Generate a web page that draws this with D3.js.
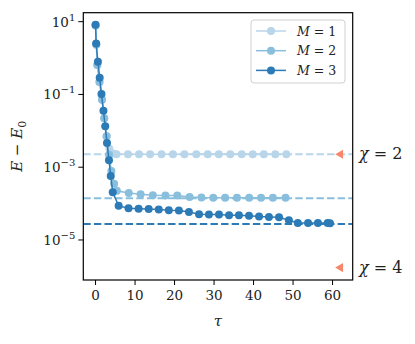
<!DOCTYPE html>
<html>
<head>
<meta charset="utf-8">
<script src="https://cdn.jsdelivr.net/npm/d3@7"></script>
<style>
  body { margin: 0; background: #fff; }
</style>
</head>
<body>
<svg width="415" height="344"></svg>
<script>
// imaginary time tau and energy error for each bond dimension M
const tau1 = [0, 0.2, 0.45, 1.0, 1.65, 2.2, 2.8, 3.5, 4.4, 5.3, 8.2, 11.0, 13.8, 16.7, 19.6, 22.5, 25.5, 28.4, 31.2, 34.1, 37.0, 39.8, 42.6, 45.5, 48.3];
const err1 = [8.0, 2.3, 0.65, 0.22, 0.071, 0.022, 0.0071, 0.0032, 0.0024, 0.00228, 0.00228, 0.00228, 0.00228, 0.00228, 0.00228, 0.00228, 0.00228, 0.00228, 0.00228, 0.00228, 0.00228, 0.00228, 0.00228, 0.00228, 0.00228];

const tau2 = [0, 0.2, 0.45, 1.0, 1.65, 2.2, 2.8, 3.4, 4.0, 4.7, 5.4, 8.4, 11.4, 14.5, 17.7, 20.7, 23.8, 26.8, 29.8, 32.8, 35.8, 38.9, 41.9, 44.9, 48.1];
const err2 = [7.9, 2.4, 0.65, 0.22, 0.071, 0.022, 0.0071, 0.0022, 7.9e-4, 3.5e-4, 2.25e-4, 1.95e-4, 1.82e-4, 1.7e-4, 1.66e-4, 1.66e-4, 1.51e-4, 1.46e-4, 1.45e-4, 1.45e-4, 1.45e-4, 1.45e-4, 1.45e-4, 1.45e-4, 1.45e-4];

const tau3 = [0, 0.15, 0.6, 1.05, 1.5, 2.0, 2.45, 2.9, 3.4, 3.85, 4.35, 5.85, 8.35, 10.9, 13.45, 16.0, 18.55, 21.1, 23.65, 26.2, 28.7, 31.25, 33.8, 36.3, 38.85, 41.4, 43.9, 46.45, 48.95, 51.2, 53.8, 56.3, 58.75, 59.35];
const err3 = [8.3, 2.5, 0.79, 0.29, 0.103, 0.0357, 0.0133, 0.00466, 0.00156, 5.7e-4, 2.06e-4, 8.7e-5, 7.4e-5, 7.2e-5, 7.1e-5, 6.9e-5, 6.6e-5, 6.5e-5, 5.9e-5, 5.1e-5, 5.0e-5, 5.0e-5, 4.8e-5, 4.8e-5, 4.6e-5, 4.4e-5, 4.3e-5, 4.2e-5, 3.5e-5, 2.95e-5, 2.95e-5, 2.95e-5, 2.95e-5, 2.9e-5];

// converged (dashed) levels per M
const converged = [0.00228, 1.41e-4, 2.77e-5];
const seriesLabels = ["1", "2", "3"];
const colors = ["#b8d5ea", "#89bedc", "#2c7bb6"];

// reference markers
const chiTau = [62, 62];
const chiErr = [0.00228, 1.74e-6];
const chiLabels = ["2", "4"];

const xTicks = [0, 10, 20, 30, 40, 50, 60];
const yTicks = [1e1, 1e-1, 1e-3, 1e-5];

const serif = "'DejaVu Serif', serif";
const svg = d3.select("svg")
  .attr("font-family", serif)
  .style("font-family", serif);
const pLeft = 83.3, pRight = 352.7, pTop = 12.7, pBottom = 280;

const x = d3.scaleLinear().domain([-3.1, 65.1]).range([pLeft, pRight]);
const y = d3.scaleLog().domain([Math.pow(10, -6.1), Math.pow(10, 1.247)]).range([pBottom, pTop]);

const series = [
  { tau: tau1, err: err1 },
  { tau: tau2, err: err2 },
  { tau: tau3, err: err3 }
].map((s, i) => ({ ...s, label: seriesLabels[i], color: colors[i], level: converged[i] }));

const plot = svg.append("g");

plot.append("defs").append("clipPath").attr("id", "clip")
  .append("rect").attr("x", pLeft).attr("y", pTop)
  .attr("width", pRight - pLeft).attr("height", pBottom - pTop);

const inner = plot.append("g").attr("clip-path", "url(#clip)");

// dashed converged lines
inner.selectAll("line.level")
  .data(series)
  .join("line")
  .attr("class", "level")
  .attr("x1", pLeft).attr("x2", pRight)
  .attr("y1", d => y(d.level)).attr("y2", d => y(d.level))
  .attr("stroke", d => d.color)
  .attr("stroke-width", 2)
  .attr("stroke-dasharray", "7.4,3.2");

const line = d3.line().x(d => x(d[0])).y(d => y(d[1]));

series.forEach(s => {
  const pts = s.tau.map((t, i) => [t, s.err[i]]);
  const g = inner.append("g");
  g.append("path")
    .datum(pts)
    .attr("d", line)
    .attr("fill", "none")
    .attr("stroke", s.color)
    .attr("stroke-width", 1.5);
  g.selectAll("circle")
    .data(pts)
    .join("circle")
    .attr("cx", d => x(d[0]))
    .attr("cy", d => y(d[1]))
    .attr("r", 4)
    .attr("fill", s.color);
});

// chi triangles
inner.selectAll("path.chi")
  .data(chiTau.map((t, i) => [t, chiErr[i]]))
  .join("path")
  .attr("class", "chi")
  .attr("d", d3.symbol(d3.symbolTriangle, 36)())
  .attr("transform", d => `translate(${x(d[0])},${y(d[1])}) rotate(-90)`)
  .attr("fill", "#f8866a");

// frame
plot.append("rect")
  .attr("x", pLeft).attr("y", pTop)
  .attr("width", pRight - pLeft).attr("height", pBottom - pTop)
  .attr("fill", "none").attr("stroke", "#000").attr("stroke-width", 1.2);

// x axis
const xAxis = svg.append("g");
xTicks.forEach(t => {
  xAxis.append("line")
    .attr("x1", x(t)).attr("x2", x(t))
    .attr("y1", pBottom).attr("y2", pBottom + 5)
    .attr("stroke", "#000").attr("stroke-width", 1);
  xAxis.append("text")
    .attr("x", x(t)).attr("y", pBottom + 20)
    .attr("text-anchor", "middle")
    .attr("font-size", 13.5)
    .attr("fill", "#222")
    .text(t);
});
svg.append("text")
  .attr("x", (pLeft + pRight) / 2).attr("y", 326)
  .attr("text-anchor", "middle")
  .attr("font-size", 15)
  .attr("font-style", "italic")
  .attr("fill", "#222")
  .text("τ");

// y axis
const yAxis = svg.append("g");
yTicks.forEach(t => {
  const e = Math.round(Math.log10(t));
  yAxis.append("line")
    .attr("x1", pLeft - 5).attr("x2", pLeft)
    .attr("y1", y(t)).attr("y2", y(t))
    .attr("stroke", "#000").attr("stroke-width", 1);
  const txt = yAxis.append("text")
    .attr("x", pLeft - 8).attr("y", y(t) + 5)
    .attr("text-anchor", "end")
    .attr("font-size", 13.5)
    .attr("fill", "#222");
  txt.append("tspan").text("10");
  txt.append("tspan").attr("dy", -6).attr("font-size", 10)
    .text(e < 0 ? "−" + (-e) : e);
});
const yl = svg.append("text")
  .attr("transform", `translate(22,${(pTop + pBottom) / 2}) rotate(-90)`)
  .attr("text-anchor", "middle")
  .attr("font-size", 15)
  .attr("fill", "#222");
yl.append("tspan").attr("font-style", "italic").text("E");
yl.append("tspan").text(" − ");
yl.append("tspan").attr("font-style", "italic").text("E");
yl.append("tspan").attr("dy", 4).attr("font-size", 11).text("0");

// chi labels on the right
svg.selectAll("text.chi")
  .data(chiErr)
  .join("text")
  .attr("class", "chi")
  .attr("x", 359)
  .attr("y", d => y(d) + 5)
  .attr("font-size", 16)
  .attr("fill", "#222")
  .each(function(d, i) {
    const t = d3.select(this);
    t.append("tspan").attr("font-style", "italic").text("χ");
    t.append("tspan").text(" = " + chiLabels[i]);
  });

// legend
const lg = svg.append("g");
lg.append("rect")
  .attr("x", 251).attr("y", 20)
  .attr("width", 94).attr("height", 63)
  .attr("rx", 3)
  .attr("fill", "#fff").attr("fill-opacity", 0.8)
  .attr("stroke", "#d0d0d0").attr("stroke-width", 1);
series.forEach((s, i) => {
  const ly = 31 + i * 19.7;
  lg.append("line")
    .attr("x1", 256).attr("x2", 286)
    .attr("y1", ly).attr("y2", ly)
    .attr("stroke", s.color).attr("stroke-width", 1.5);
  lg.append("circle")
    .attr("cx", 271).attr("cy", ly).attr("r", 4).attr("fill", s.color);
  const t = lg.append("text")
    .attr("x", 297).attr("y", ly + 4.5)
    .attr("font-size", 12.5)
    .attr("fill", "#222");
  t.append("tspan").attr("font-style", "italic").text("M");
  t.append("tspan").text(" = " + s.label);
});
</script>
</body>
</html>
